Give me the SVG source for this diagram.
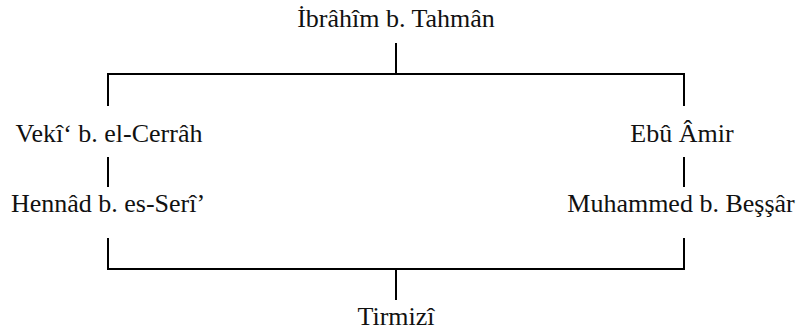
<svg xmlns="http://www.w3.org/2000/svg" width="803" height="335" viewBox="0 0 803 335">
  <style>
    .lbl { font-family: "Liberation Serif", "Times New Roman", serif; font-size: 26px; fill: #111; text-anchor: middle; }
    .ln { stroke: #000; stroke-width: 2; fill: none; }
  </style>
  <rect width="803" height="335" fill="#fff"/>
  <g id="connectors">
    <line class="ln" x1="396" y1="43" x2="396" y2="74"/>
    <polyline class="ln" points="108,106 108,74 684,74 684,106"/>
    <line class="ln" x1="108" y1="157" x2="108" y2="187"/>
    <line class="ln" x1="684" y1="157" x2="684" y2="187"/>
    <polyline class="ln" points="108,238 108,269 684,269 684,238"/>
    <line class="ln" x1="396" y1="269" x2="396" y2="300"/>
  </g>
  <g id="ibrahim"><text class="lbl" x="396" y="27">İbrâhîm b. Tahmân</text></g>
  <g id="veki"><text class="lbl" x="109" y="142">Vekî‘ b. el-Cerrâh</text></g>
  <g id="ebu-amir"><text class="lbl" x="682" y="142">Ebû Âmir</text></g>
  <g id="hennad"><text class="lbl" x="108" y="212">Hennâd b. es-Serî’</text></g>
  <g id="muhammed"><text class="lbl" x="681" y="212">Muhammed b. Beşşâr</text></g>
  <g id="tirmizi"><text class="lbl" x="396" y="325">Tirmizî</text></g>
</svg>
